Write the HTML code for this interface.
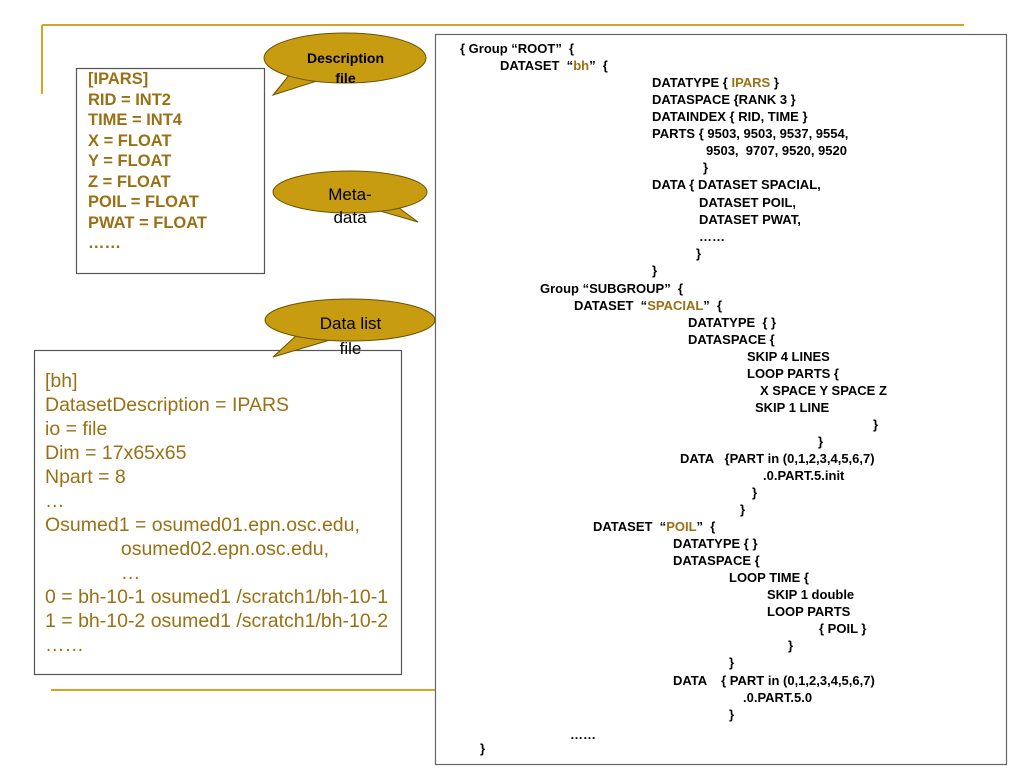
<!DOCTYPE html>
<html><head><meta charset="utf-8"><style>
body{margin:0;width:1024px;height:768px;background:#fff;position:relative;overflow:hidden;font-family:"Liberation Sans",sans-serif}
.a{position:absolute;white-space:pre;line-height:17px}
.r{font-size:13px;font-weight:bold;color:#000}
.g{color:#9a7014}
.d{font-size:16.5px;font-weight:bold;color:#9a7014;line-height:20.5px}
.l{font-size:19.5px;color:#9a7014;line-height:24px}
</style></head><body>
<svg width="1024" height="768" style="position:absolute;left:0;top:0">
<line x1="42" y1="25" x2="964" y2="25" stroke="#d4a520" stroke-width="2"/>
<line x1="42" y1="25" x2="42" y2="94" stroke="#d4a520" stroke-width="2"/>
<line x1="51" y1="690" x2="436" y2="690" stroke="#d4a520" stroke-width="2"/>
<rect x="435.5" y="34.5" width="571" height="730" fill="#fff" stroke="#666" stroke-width="1.2"/>
<rect x="76.5" y="68.5" width="188" height="205" fill="#fff" stroke="#555" stroke-width="1.2"/>
<rect x="34.5" y="350.5" width="367" height="324" fill="#fff" stroke="#555" stroke-width="1.2"/>
<g fill="#c79c10" stroke="#6a5200" stroke-width="1">
<polygon points="290,74 273,95 320,80"/>
<ellipse cx="345" cy="58" rx="81" ry="25"/>
<polygon points="292,72 318,79 310,70" stroke="none"/>
<polygon points="395,205 418,222 380,211"/>
<ellipse cx="350" cy="192" rx="77" ry="21"/>
<polygon points="396,203 382,210 385,200" stroke="none"/>
<polygon points="298,334 273,357 330,340"/>
<ellipse cx="350" cy="320" rx="85" ry="21"/>
<polygon points="300,332 328,339 320,330" stroke="none"/>
</g>
</svg>
<div class="a" style="left:298px;top:48px;font-size:14px;font-weight:bold;text-align:center;width:95px;line-height:20px">Description
file</div>
<div class="a" style="left:310px;top:183px;font-size:17px;text-align:center;width:80px;line-height:23px">Meta-
data</div>
<div class="a" style="left:303px;top:311px;font-size:17px;text-align:center;width:95px;line-height:25px">Data list
file</div>
<div class="a d" style="left:88px;top:69px">[IPARS]
RID = INT2
TIME = INT4
X = FLOAT
Y = FLOAT
Z = FLOAT
POIL = FLOAT
PWAT = FLOAT
……</div>
<div class="a l" style="left:45px;top:369px">[bh]
DatasetDescription = IPARS
io = file
Dim = 17x65x65
Npart = 8
…
Osumed1 = osumed01.epn.osc.edu,
              osumed02.epn.osc.edu,
              …
0 = bh-10-1 osumed1 /scratch1/bh-10-1
1 = bh-10-2 osumed1 /scratch1/bh-10-2
……</div>
<div class="a r" style="left:460px;top:40px">{ Group “ROOT”  {</div>
<div class="a r" style="left:500px;top:57px">DATASET  “<span class="g">bh</span>”  {</div>
<div class="a r" style="left:652px;top:74px">DATATYPE { <span class="g">IPARS</span> }
DATASPACE {RANK 3 }
DATAINDEX { RID, TIME }
PARTS { 9503, 9503, 9537, 9554,</div>
<div class="a r" style="left:706px;top:142px">9503,  9707, 9520, 9520</div>
<div class="a r" style="left:703px;top:159px">}</div>
<div class="a r" style="left:652px;top:176px">DATA { DATASET SPACIAL,</div>
<div class="a r" style="left:699px;top:194px">DATASET POIL,
DATASET PWAT,</div>
<div class="a r" style="left:699px;top:228px">……</div>
<div class="a r" style="left:696px;top:245px">}</div>
<div class="a r" style="left:652px;top:262px">}</div>
<div class="a r" style="left:540px;top:280px">Group “SUBGROUP”  {</div>
<div class="a r" style="left:574px;top:297px">DATASET  “<span class="g">SPACIAL</span>”  {</div>
<div class="a r" style="left:688px;top:314px">DATATYPE  { }
DATASPACE {</div>
<div class="a r" style="left:747px;top:348px">SKIP 4 LINES
LOOP PARTS {</div>
<div class="a r" style="left:760px;top:382px">X SPACE Y SPACE Z</div>
<div class="a r" style="left:755px;top:399px">SKIP 1 LINE</div>
<div class="a r" style="left:873px;top:416px">}</div>
<div class="a r" style="left:818px;top:433px">}</div>
<div class="a r" style="left:680px;top:450px">DATA   {PART in (0,1,2,3,4,5,6,7)</div>
<div class="a r" style="left:763px;top:467px">.0.PART.5.init</div>
<div class="a r" style="left:752px;top:484px">}</div>
<div class="a r" style="left:740px;top:501px">}</div>
<div class="a r" style="left:593px;top:518px">DATASET  “<span class="g">POIL</span>”  {</div>
<div class="a r" style="left:673px;top:535px">DATATYPE { }
DATASPACE {</div>
<div class="a r" style="left:729px;top:569px">LOOP TIME {</div>
<div class="a r" style="left:767px;top:586px">SKIP 1 double
LOOP PARTS</div>
<div class="a r" style="left:819px;top:620px">{ POIL }</div>
<div class="a r" style="left:788px;top:637px">}</div>
<div class="a r" style="left:729px;top:654px">}</div>
<div class="a r" style="left:673px;top:672px">DATA    { PART in (0,1,2,3,4,5,6,7)</div>
<div class="a r" style="left:743px;top:689px">.0.PART.5.0</div>
<div class="a r" style="left:729px;top:706px">}</div>
<div class="a r" style="left:570px;top:726px">……</div>
<div class="a r" style="left:480px;top:740px">}</div>
</body></html>
